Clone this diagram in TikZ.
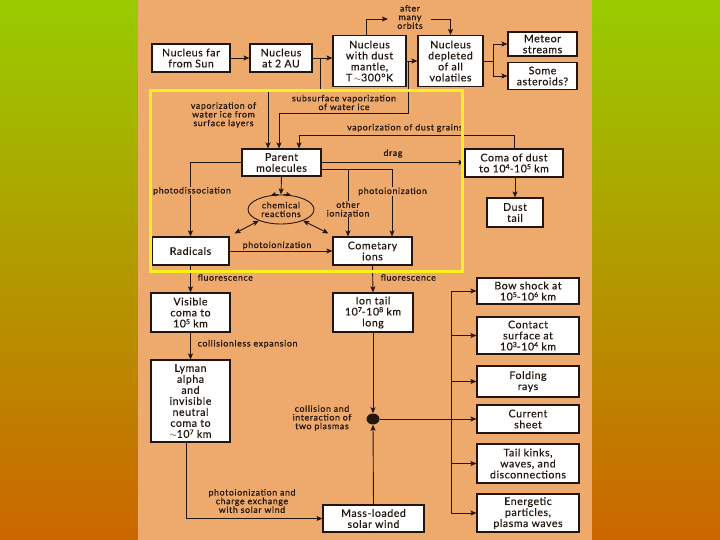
\documentclass[tikz,border=0pt]{standalone}
\usepackage{fontspec}
\setmainfont{Lato}
\newfontfamily\boxfont{Lato}[LetterSpace=5,FakeBold=0.3]
\newfontfamily\lblfont{Lato}[LetterSpace=7,FakeBold=0.6]
\newcommand{\sx}[1]{\raisebox{0.6ex}{\fontsize{7}{7}\selectfont #1}}
\usetikzlibrary{shapes.geometric,arrows.meta,calc}
\definecolor{ink}{RGB}{35,22,15}
\definecolor{panel}{RGB}{238,170,108}
\definecolor{bgtop}{RGB}{153,204,0}
\definecolor{bgbot}{RGB}{204,102,0}
\definecolor{hl}{RGB}{250,240,30}
\begin{document}
\begin{tikzpicture}[x=1pt,y=-1pt,
  box/.style={draw=ink, line width=1.1pt, fill=white, text=ink, align=center, inner sep=1pt,
    font=\boxfont\fontsize{10.6}{11}\selectfont},
  lbl/.style={text=ink, align=center, inner sep=0.5pt, font=\lblfont\fontsize{8.8}{8.7}\selectfont},
  lblf/.style={lbl, fill=panel},
  arr/.style={draw=ink, line width=0.9pt, -{Stealth[length=6pt,width=5pt,inset=1.2pt]}},
  dbl/.style={draw=ink, line width=0.9pt, {Stealth[length=6pt,width=5pt,inset=1.2pt]}-{Stealth[length=6pt,width=5pt,inset=1.2pt]}},
  ln/.style={draw=ink, line width=0.9pt},
]
\useasboundingbox (0,0) rectangle (720,540);
\shade[top color=bgtop, bottom color=bgbot] (0,0) rectangle (720,540);
\fill[panel] (138,0) rectangle (592,540);

% top row
\node[box, minimum width=78, minimum height=28] (far) at (191,58) {Nucleus far\\from Sun};
\node[box, minimum width=62, minimum height=28] (au2) at (281,58) {Nucleus\\at 2 AU};
\node[box, minimum width=73, minimum height=51] (mantle) at (369.5,61) {Nucleus\\with dust\\mantle,\\T\,{\fontsize{9}{9}\selectfont$\sim$}300°K};
\node[box, minimum width=65, minimum height=51] (depl) at (450.5,61) {Nucleus\\depleted\\of all\\volatiles};
\node[box, minimum width=69, minimum height=24] (meteor) at (542.5,44) {Meteor\\streams};
\node[box, minimum width=69, minimum height=27] (aster) at (542.5,76) {Some\\asteroids?};

\draw[arr] (far) -- (au2);
\draw[arr] (au2.east) -- (au2.east -| mantle.west);
\draw[arr] (mantle.east) -- (depl.west);
\coordinate (s1) at (493,61);
\draw[arr] (depl.east) -- (s1) |- (meteor.west);
\draw[arr] (s1) |- (aster.west);

\coordinate (o1) at (388,19);
\coordinate (o2) at (431,19);
\draw[arr] ([xshift=-3pt]mantle.north) |- (o1);
\node[lbl] (orb) at (410,17) {after\\many\\orbits};
\draw[arr] (o2) -| (depl.north);

% middle
\node[box, minimum width=79, minimum height=27] (par) at (281.5,162.5) {Parent\\molecules};
\node[box, minimum width=98, minimum height=28] (coma) at (514,163) {Coma of dust\\to 10\sx{4}-10\sx{5} km};
\node[box, minimum width=56, minimum height=29] (dtail) at (515,212.5) {Dust\\tail};
\draw[arr] (coma.south -| dtail.north) -- (dtail.north);

\coordinate (b1) at (320,58);
\coordinate (p1) at (268,91);
\draw[arr] (b1) |- (p1) -- (p1 |- par.north);
\node[lbl] (l1) at (223.5,115) {vaporization of\\water ice from\\surface layers};

\coordinate (b2) at (408,61);
\coordinate (p2) at (279,113);
\draw[arr] (b2) |- (p2) -- (p2 |- par.north);
\node[lbl] (l2) at (344,102.5) {subsurface vaporization\\of water ice};

\coordinate (p3) at (299,135);
\draw[arr] (coma.north) |- (p3) -- (p3 |- par.north);
\node[lbl] (l3) at (405,128) {vaporization of dust grains};

\draw[arr] (par.east) -- (par.east -| coma.west);
\node[lbl] (ldrag) at (393,153.5) {drag};

\node[box, minimum width=77, minimum height=28] (rad) at (190.5,251) {Radicals};
\node[box, minimum width=79, minimum height=28] (ion) at (372.5,251) {Cometary\\ions};

\draw[arr] (par.west) -| (rad.north);
\node[lblf] (lpd) at (192,191) {photodissociation};

\coordinate (p4) at (392,169);
\coordinate (p5) at (348,169);
\draw[arr] (par.east |- p4) -- (p4) -- (p4 |- ion.north);
\draw[arr] (p5) -- (p5 |- ion.north);
\node[lblf] (lpi) at (392.5,191.5) {photoionization};
\node[lblf] (loi) at (348,209) {other\\ionization};

\node[ellipse, draw=ink, line width=0.9pt, minimum width=66, minimum height=29, inner sep=0,
  text=ink, align=center, font=\lblfont\fontsize{8.8}{8.7}\selectfont] (chem) at (281,209.5) {chemical\\reactions};
\draw[arr] (par.south) -- (chem.north);
\draw[ink, line width=0.9pt, -{Stealth[length=5pt,width=4.5pt,inset=1pt]}] (chem.100) to[bend right=8] (chem.125);
\draw[ink, line width=0.9pt, -{Stealth[length=5pt,width=4.5pt,inset=1pt]}] (chem.80) to[bend left=8] (chem.55);
\draw[dbl] (chem.207) -- ([shift={(5pt,3pt)}]rad.north east);
\draw[dbl] (chem.333) -- ([shift={(-4pt,3pt)}]ion.north west);

\draw[arr] (rad.east) -- (rad.east -| ion.west);
\node[lbl] (lpi2) at (277,245.5) {photoionization};

% lower left
\node[box, minimum width=79, minimum height=39] (vis) at (190.5,312.5) {Visible\\coma to\\10\sx{5} km};
\node[box, minimum width=80, minimum height=39] (itail) at (373,312.5) {Ion tail\\10\sx{7}-10\sx{8} km\\long};
\draw[arr] (rad.south) -- (vis.north);
\node[lbl, anchor=west] (lf1) at (197,277.5) {fluorescence};
\draw[arr] (ion.south) -- (itail.north);
\node[lbl, anchor=west] (lf2) at (380,277.5) {fluorescence};

\node[box, minimum width=79, minimum height=82] (ly) at (190.5,401) {Lyman\\alpha\\and\\invisible\\neutral\\coma to\\{\fontsize{9}{9}\selectfont$\sim$}10\sx{7} km};
\draw[arr] (vis.south) -- (ly.north);
\node[lbl, anchor=west] (lce) at (197,344) {collisionless expansion};

\node[ellipse, fill=ink, minimum width=13, minimum height=11, inner sep=0] (dot) at (373,419) {};
\draw[arr] (itail.south) -- (dot.north);
\node[lbl] (lcol) at (322,418) {collision and\\interaction of\\two plasmas};

\node[box, minimum width=101, minimum height=27] (mass) at (373.5,518.5) {Mass-loaded\\solar wind};
\draw[arr] (mass.north) -- (dot.south);
\draw[arr] ([xshift=-4pt]ly.south) |- (mass.west);
\node[lbl] (lpc) at (252,501) {photoionization and\\charge exchange\\with solar wind};

% right column
\node[box, minimum width=102, minimum height=26] (bow) at (528,291) {Bow shock at\\10\sx{5}-10\sx{6} km};
\node[box, minimum width=102, minimum height=37] (contact) at (528,335.5) {Contact\\surface at\\10\sx{3}-10\sx{4} km};
\node[box, minimum width=102, minimum height=31] (fold) at (528,381.5) {Folding\\rays};
\node[box, minimum width=102, minimum height=28] (cur) at (528,419) {Current\\sheet};
\node[box, minimum width=102, minimum height=39] (tail) at (528,463.5) {Tail kinks,\\waves, and\\disconnections};
\node[box, minimum width=102, minimum height=38] (ener) at (528,513) {Energetic\\particles,\\plasma waves};

\coordinate (bt) at (451,291);
\coordinate (bb) at (451,513);
\draw[ln] (bt) -- (bb);
\draw[arr] (bt) -- (bow.west);
\draw[arr] (bt |- contact.west) -- (contact.west);
\draw[arr] (bt |- fold.west) -- (fold.west);
\draw[arr] (dot.east) -- (cur.west);
\draw[arr] (bt |- tail.west) -- (tail.west);
\draw[arr] (bb) -- (ener.west);

% highlight frame
\draw[hl, line width=3pt] (150.5,90.5) rectangle (462.5,271);
\end{tikzpicture}
\end{document}
